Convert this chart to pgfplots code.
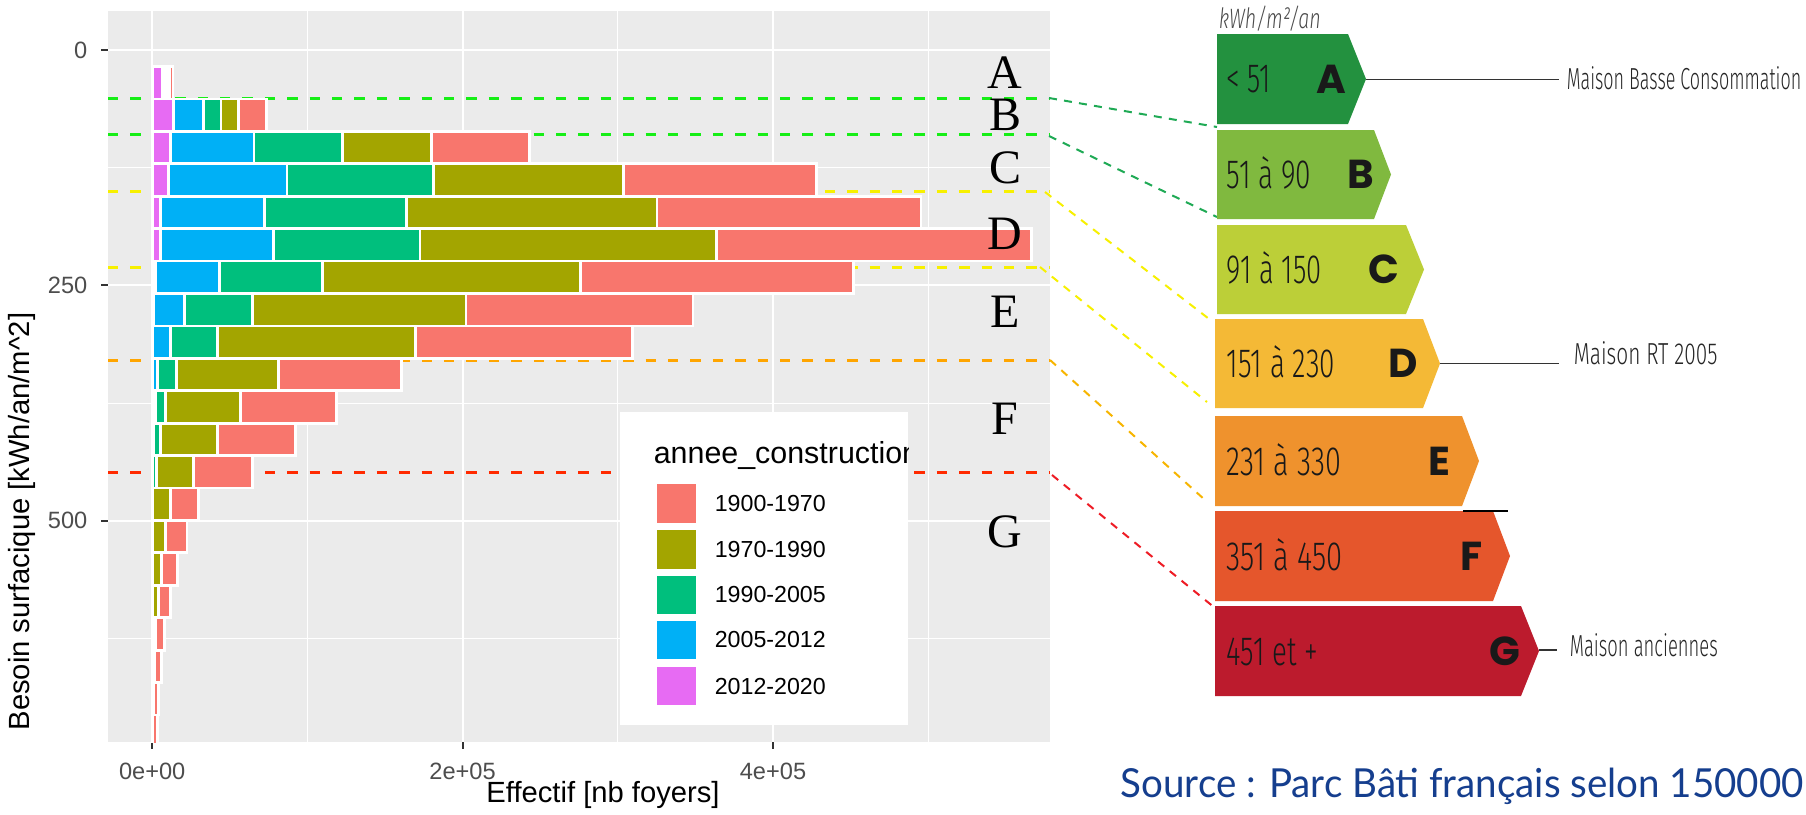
\documentclass[border=0pt]{standalone}
\usepackage{fontspec}
\setmainfont{Liberation Sans}
\newfontfamily\timesf{Liberation Serif}
\newfontfamily\dpef{Fira Sans}[UprightFont={* Light}, ItalicFont={* Light Italic}]
\newfontfamily\dpeb{Poppins}
\newfontfamily\srcf{Lato}
\usepackage{graphicx}
\usepackage{pgfplots}
\usepackage{pgfplotstable}
\pgfplotsset{compat=1.18}

% ggplot hue palette
\definecolor{c0070}{HTML}{F8766D}
\definecolor{c7090}{HTML}{A3A500}
\definecolor{c9005}{HTML}{00BF7D}
\definecolor{c0512}{HTML}{00B0F6}
\definecolor{c1220}{HTML}{E76BF3}
\definecolor{panelbg}{HTML}{EBEBEB}
\definecolor{tickgrey}{HTML}{4D4D4D}
% DPE label colours
\definecolor{dA}{HTML}{23913F}
\definecolor{dB}{HTML}{80B93F}
\definecolor{dC}{HTML}{BCCF38}
\definecolor{dD}{HTML}{F4B936}
\definecolor{dE}{HTML}{EF922D}
\definecolor{dF}{HTML}{E5562C}
\definecolor{dG}{HTML}{BC1B2D}
\definecolor{lgreen}{HTML}{16EE16}
\definecolor{lyellow}{HTML}{F7F000}
\definecolor{lorange}{HTML}{FFA500}
\definecolor{lred}{HTML}{FF2A00}
\definecolor{dggreen}{HTML}{1FAA55}
\definecolor{dgorange}{HTML}{F7B500}
\definecolor{dgred}{HTML}{EE1C25}
\definecolor{srcblue}{HTML}{153E8E}

% counts per bin of besoin surfacique, stacked by construction period
\pgfplotstableread{
y      m      b      g      o       s
34.9   6500   2000   1200   1200    2500
69.3   13500  19600  11200  11200   18000
103.7  11900  53700  56900  57400   63400
138.1  10600  76300  94500  122300  124300
172.6  5400   66900  91300  161600  170200
207.0  5200   73000  94300  191200  203000
241.4  2200   41100  66600  166300  175500
275.9  800    20200  43400  137800  146300
310.3  500    11400  30200  127500  139900
344.7  300    2900   12300  65800   79200
379.2  200    2000   6400   48400   61700
413.6  0      1000   4200   36700   50600
448.0  0      500    2300   23900   37900
482.5  0      0      500    11100   18100
516.9  0      0      300    8300    13800
551.3  0      0      200    5600    10300
585.8  0      0      0      3850    7950
620.2  0      0      0      2300    5400
654.6  0      0      0      1500    4300
689.0  0      0      0      600     3300
723.5  0      0      0      300     3000
}\hist

\begin{document}
\begin{tikzpicture}
% page frame, 1 px of the reference = 0.25pt
\begin{scope}[x=0.25pt,y=-0.25pt]
  \fill[white] (0,0) rectangle (1806,814);
\end{scope}

\begin{axis}[
  at={(27pt,-2.75pt)}, anchor=north west,
  width=235.5pt, height=182.75pt, scale only axis,
  xbar stacked, bar width=34.43,
  xmin=-28500, xmax=578500, ymin=-41.4, ymax=735, y dir=reverse,
  axis background/.style={fill=panelbg},
  axis line style={draw=none},
  grid=both,
  major grid style={white, line width=0.55pt},
  minor grid style={white, line width=0.28pt},
  xtick={0,200000,400000}, xticklabels={0e+00,2e+05,4e+05},
  minor xtick={100000,300000,500000},
  ytick={0,250,500}, yticklabels={0,250,500},
  minor ytick={125,375,625},
  scaled x ticks=false,
  tick align=outside, major tick length=1.65pt, minor tick length=0pt,
  tick style={color=black!80, line width=0.5pt},
  xtick pos=left, ytick pos=left,
  ticklabel style={font=\fontsize{5.9pt}{7pt}\selectfont, text=tickgrey},
  xlabel={Effectif [nb foyers]},
  ylabel={Besoin surfacique [kWh/an/m\textasciicircum 2]},
  label style={font=\fontsize{7.3pt}{8pt}\selectfont},
  xlabel style={at={(axis description cs:0.5255,-0.073)}, anchor=center},
  ylabel style={at={(axis description cs:-0.0918,0.3016)}, anchor=center},
  every axis plot/.append style={draw=white, line width=0.7pt},
]
\addplot[fill=c1220] table[x=m, y=y] {\hist};
\addplot[fill=c0512] table[x=b, y=y] {\hist};
\addplot[fill=c9005] table[x=g, y=y] {\hist};
\addplot[fill=c7090] table[x=o, y=y] {\hist};
\addplot[fill=c0070] table[x=s, y=y] {\hist};

% class limits
\draw[lgreen, line width=0.75pt, dash pattern=on 2.6pt off 3pt] (axis cs:-28500,51) -- (axis cs:578500,51);
\draw[lgreen, line width=0.75pt, dash pattern=on 2.6pt off 3pt] (axis cs:-28500,90) -- (axis cs:578500,90);
\draw[lyellow, line width=0.75pt, dash pattern=on 2.6pt off 3pt] (axis cs:-28500,150) -- (axis cs:578500,150);
\draw[lyellow, line width=0.75pt, dash pattern=on 2.6pt off 3pt] (axis cs:-28500,231) -- (axis cs:578500,231);
\draw[lorange, line width=0.75pt, dash pattern=on 2.6pt off 3pt] (axis cs:-28500,330) -- (axis cs:578500,330);
\draw[lred, line width=0.75pt, dash pattern=on 2.6pt off 3pt] (axis cs:-28500,449) -- (axis cs:578500,449);
\end{axis}

\begin{scope}[x=0.25pt,y=-0.25pt]
  % legend
  \fill[white] (620,412) rectangle (908,725);
  \begin{scope}
    \clip (620,412) rectangle (908,725);
    \node[anchor=west, inner sep=0, font=\fontsize{7.6pt}{8pt}\selectfont] at (653,455) {annee\_construction};
  \end{scope}
  \fill[c0070] (657,484) rectangle (696,523);
  \fill[c7090] (657,530) rectangle (696,569);
  \fill[c9005] (657,576) rectangle (696,614);
  \fill[c0512] (657,621) rectangle (696,659);
  \fill[c1220] (657,667) rectangle (696,705);
  \begin{scope}[every node/.style={anchor=west, inner sep=0, font=\fontsize{5.8pt}{7pt}\selectfont}]
    \node at (714,503.5) {1900-1970};
    \node at (714,549.5) {1970-1990};
    \node at (714,595) {1990-2005};
    \node at (714,640) {2005-2012};
    \node at (714,686) {2012-2020};
  \end{scope}

  % class letters over the panel
  \begin{scope}[every node/.style={font=\timesf\fontsize{12pt}{12pt}\selectfont, inner sep=0}]
    \node at (1005,72.5) {A};
    \node at (1005,115) {B};
    \node at (1005,167.5) {C};
    \node at (1005,234) {D};
    \node at (1005,312) {E};
    \node at (1005,419) {F};
    \node at (1005,531.5) {G};
  \end{scope}

  % links to the label
  \begin{scope}[line width=0.5pt, dash pattern=on 2pt off 1.8pt]
    \draw[dggreen] (1049,98) -- (1217,127);
    \draw[dggreen] (1049,136) -- (1217,217);
    \draw[lyellow] (1045,192) -- (1213,322);
    \draw[lyellow] (1040,267) -- (1207,402);
    \draw[dgorange] (1050,360) -- (1205,500);
    \draw[dgred] (1052,475) -- (1215,608);
  \end{scope}

  % DPE label
  \fill[dA] (1217,34) -- (1348,34) -- (1366,79) -- (1348,124) -- (1217,124) -- cycle;
  \fill[dB] (1217,130) -- (1374,130) -- (1391,174.5) -- (1374,219) -- (1217,219) -- cycle;
  \fill[dC] (1217,225) -- (1406,225) -- (1424,269.5) -- (1406,314) -- (1217,314) -- cycle;
  \fill[dD] (1215,319) -- (1423,319) -- (1440,363.5) -- (1423,408) -- (1215,408) -- cycle;
  \fill[dE] (1215,416) -- (1462,416) -- (1479,461) -- (1462,506) -- (1215,506) -- cycle;
  \fill[dF] (1215,511) -- (1493,511) -- (1510,556) -- (1493,601) -- (1215,601) -- cycle;
  \fill[dG] (1215,606) -- (1521,606) -- (1539,651) -- (1521,696) -- (1215,696) -- cycle;
  \draw[line width=0.4pt] (1463,511) -- (1508,511);

  \node[anchor=base west, inner sep=0, text=black!70] at (1218,28) {\resizebox{25.5pt}{\height}{\dpef\itshape\fontsize{7pt}{7pt}\selectfont kWh/m²/an}};

  \begin{scope}[every node/.style={anchor=base west, inner sep=0, text=black!90}]
    \node at (1226,93) {\resizebox{11pt}{\height}{\dpef\fontsize{10.2pt}{10pt}\selectfont < 51}};
    \node at (1226,188.5) {\resizebox{21.15pt}{\height}{\dpef\fontsize{10.2pt}{10pt}\selectfont 51 à 90}};
    \node at (1226,283.5) {\resizebox{23.65pt}{\height}{\dpef\fontsize{10.2pt}{10pt}\selectfont 91 à 150}};
    \node at (1226,377.5) {\resizebox{27.05pt}{\height}{\dpef\fontsize{10.2pt}{10pt}\selectfont 151 à 230}};
    \node at (1226,475) {\resizebox{28.55pt}{\height}{\dpef\fontsize{10.2pt}{10pt}\selectfont 231 à 330}};
    \node at (1226,570) {\resizebox{28.95pt}{\height}{\dpef\fontsize{10.2pt}{10pt}\selectfont 351 à 450}};
    \node at (1226,665) {\resizebox{22.75pt}{\height}{\dpef\fontsize{10.2pt}{10pt}\selectfont 451 et +}};
  \end{scope}

  \begin{scope}[every node/.style={font=\dpeb\bfseries\fontsize{10.1pt}{10pt}\selectfont, inner sep=0, text=black!90}]
    \node at (1331.7,79) {A};
    \node at (1360.6,174.5) {B};
    \node at (1383.6,269.5) {C};
    \node at (1403.5,363.5) {D};
    \node at (1439,461) {E};
    \node at (1471.6,556) {F};
    \node at (1505,651) {G};
  \end{scope}

  % annotations
  \draw[line width=0.45pt, black!80] (1366,79.5) -- (1559,79.5);
  \draw[line width=0.45pt, black!80] (1440,363.5) -- (1559,363.5);
  \draw[line width=0.45pt, black!80] (1539,650) -- (1557,650);
  \begin{scope}[every node/.style={anchor=base west, inner sep=0, text=black!85}]
    \node at (1566,90) {\resizebox{58.6pt}{\height}{\dpef\fontsize{7.6pt}{8pt}\selectfont Maison Basse Consommation}};
    \node at (1573,364) {\resizebox{35.9pt}{\height}{\dpef\fontsize{7.6pt}{8pt}\selectfont Maison RT 2005}};
    \node at (1569,656.5) {\resizebox{37pt}{\height}{\dpef\fontsize{7.6pt}{8pt}\selectfont Maison anciennes}};
  \end{scope}

  \node[anchor=base west, inner sep=0, text=srcblue] at (1120,797.5) {\resizebox{170.75pt}{\height}{\srcf\fontsize{10pt}{10pt}\selectfont Source : Parc Bâti français selon 150000}};
\end{scope}
\pgfresetboundingbox
\useasboundingbox (0pt,0pt) rectangle (451.5pt,-203.5pt);
\end{tikzpicture}
\end{document}
